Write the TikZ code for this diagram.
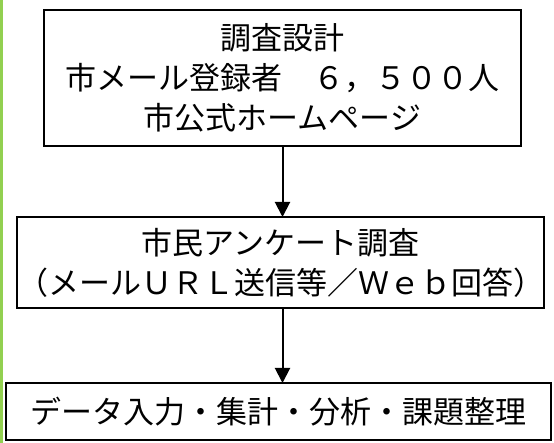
\documentclass[tikz,border=0pt]{standalone}
\usepackage{fontspec}
\setmainfont{Noto Sans CJK JP}
\usetikzlibrary{positioning,arrows.meta}
\definecolor{barGreen}{RGB}{146,208,80}

\begin{document}
\begin{tikzpicture}[x=1pt,y=1pt,node distance=71pt,
  box/.style={rectangle,draw,line width=1.8pt,inner sep=0pt,outer sep=0pt,align=center,
    font=\fontsize{31}{40}\selectfont},
  flow/.style={line width=2pt,-{Triangle[width=15pt,length=15pt]}}]

\useasboundingbox (0,0) rectangle (554,-443);
\fill[barGreen] (0,0) rectangle (2.6,-443);

%%%%%%%%%%%%%%%%%%%%%% FLOW

\node[box,minimum width=477pt,minimum height=136pt] (design) at (282.5,-78)
  {調査設計\\市メール登録者　６，５００人\\市公式ホームページ};

\node[box,minimum width=523pt,minimum height=91pt,below=71pt of design,xshift=-2pt] (survey)
  {市民アンケート調査\\（メールＵＲＬ送信等／Ｗｅｂ回答）};

\node[box,minimum width=545pt,minimum height=57pt,below=75pt of survey,xshift=-2pt] (analysis)
  {データ入力・集計・分析・課題整理};

\draw[flow] (design.south) -- (design.south |- survey.north);
\draw[flow] (survey.south -| design.south) -- (design.south |- analysis.north);

\end{tikzpicture}
\end{document}
